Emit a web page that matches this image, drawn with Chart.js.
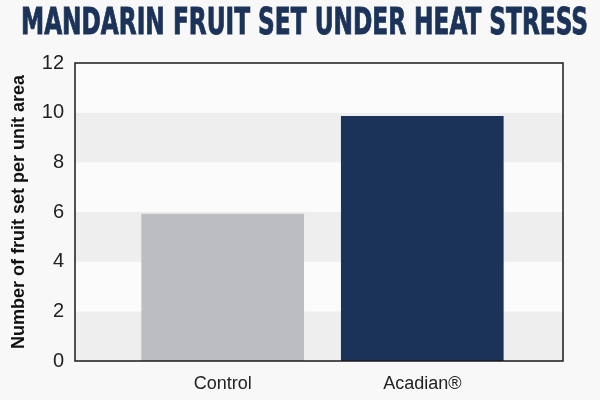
<!DOCTYPE html>
<html>
<head>
<meta charset="utf-8">
<script src="https://cdn.jsdelivr.net/npm/chart.js@4/dist/chart.umd.min.js"></script>
<style>
  html, body { margin: 0; padding: 0; background: #f8f8f8; }
  #wrap { width: 600px; height: 400px; }
</style>
</head>
<body>
<div id="wrap"><canvas id="chart"></canvas></div>
<script>
// ---- data ----
const chartTitle = "MANDARIN FRUIT SET UNDER HEAT STRESS";
const categories = ["Control", "Acadian®"];
const fruitSet = [5.92, 9.85];
const barColors = ["#bcbdc0", "#1b3358"];
const yTicks = [0, 2, 4, 6, 8, 10, 12];
const yLabel = "Number of fruit set per unit area";

// title drawn condensed to fit the width
const titlePlugin = {
  id: "condensedTitle",
  afterDraw(chart) {
    const ctx = chart.ctx;
    ctx.save();
    ctx.font = "bold 37px 'DejaVu Sans Condensed', 'DejaVu Sans', sans-serif";
    ctx.fillStyle = "#1b3358";
    ctx.strokeStyle = "#1b3358";
    ctx.lineWidth = 0.9;
    ctx.textBaseline = "alphabetic";
    const w = ctx.measureText(chartTitle).width;
    const target = 567;
    ctx.translate(21, 34);
    ctx.scale(target / w, 1);
    ctx.fillText(chartTitle, 0, 0);
    ctx.strokeText(chartTitle, 0, 0);
    ctx.restore();
  }
};

// alternating bands + frame
const bandsPlugin = {
  id: "bands",
  beforeDatasetsDraw(chart) {
    const { ctx, chartArea: a, scales: { y } } = chart;
    ctx.save();
    for (let i = 0; i < yTicks.length - 1; i++) {
      const top = y.getPixelForValue(yTicks[i + 1]);
      const bot = y.getPixelForValue(yTicks[i]);
      ctx.fillStyle = i % 2 === 0 ? "#eeeeee" : "#fbfbfb";
      ctx.fillRect(a.left, top, a.right - a.left, bot - top);
    }
    ctx.restore();
  },
  afterDatasetsDraw(chart) {
    const { ctx, chartArea: a } = chart;
    ctx.save();
    ctx.strokeStyle = "#1a1a1a";
    ctx.lineWidth = 1.5;
    ctx.strokeRect(a.left, a.top, a.right - a.left, a.bottom - a.top);
    ctx.restore();
  }
};

new Chart(document.getElementById("chart"), {
  type: "bar",
  data: {
    datasets: [{
      data: fruitSet.map((v, i) => ({ x: i, y: v })),
      backgroundColor: barColors,
      barThickness: 162,
      borderWidth: 0
    }]
  },
  options: {
    responsive: true,
    maintainAspectRatio: false,
    animation: false,
    devicePixelRatio: 1,
    layout: { padding: { top: 63, right: 37, left: 8, bottom: 0 } },
    plugins: { legend: { display: false }, tooltip: { enabled: false } },
    scales: {
      x: {
        type: "linear",
        offset: false,
        min: -0.74,
        max: 1.705,
        grid: { display: false, drawTicks: false },
        border: { display: false },
        afterBuildTicks: s => { s.ticks = categories.map((c, i) => ({ value: i })); },
        afterFit: s => { s.height = 39; },
        ticks: {
          padding: 12,
          color: "#222",
          font: { family: "'Liberation Sans', Arial, sans-serif", size: 18 },
          callback: v => categories[v]
        }
      },
      y: {
        min: 0,
        max: 12,
        afterBuildTicks: s => { s.ticks = yTicks.map(v => ({ value: v })); },
        afterFit: s => { s.width = 67; },
        grid: { display: false, drawTicks: false },
        border: { display: false },
        ticks: {
          padding: 11,
          color: "#222",
          font: { family: "'Liberation Sans', Arial, sans-serif", size: 20 }
        },
        title: {
          display: true,
          text: yLabel,
          color: "#111",
          padding: { top: 0, bottom: 0 },
          font: { family: "'Liberation Sans', Arial, sans-serif", size: 18, weight: "bold" }
        }
      }
    }
  },
  plugins: [bandsPlugin, titlePlugin]
});
</script>
</body>
</html>
